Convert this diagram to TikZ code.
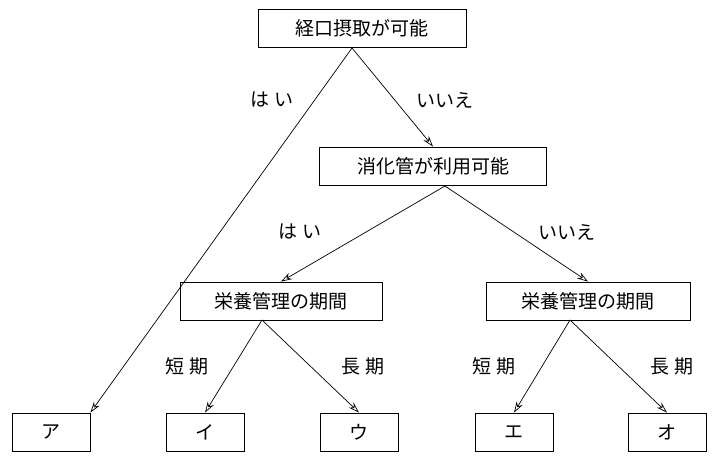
\documentclass[tikz,border=0pt]{standalone}
\usepackage{fontspec}
\setmainfont{Noto Sans CJK JP}
\usetikzlibrary{arrows.meta}
\begin{document}
\begin{tikzpicture}[x=1pt,y=-1pt,
  box/.style={draw,line width=0.8pt,minimum height=38pt,inner xsep=8pt,font=\fontsize{19}{22}\selectfont},
  leaf/.style={box,minimum width=78pt},
  lab/.style={font=\fontsize{19}{22}\selectfont},
  arr/.style={-{Stealth[length=11pt,width=7pt,open]},line width=0.7pt}]
\useasboundingbox (0,0) rectangle (714,465);
\node[box,minimum width=208pt] (n1) at (362,28) {経口摂取が可能};
\node[box,minimum width=227pt] (n2) at (433,166) {消化管が利用可能};
\node[box,minimum width=202pt] (n3) at (281,301) {栄養管理の期間};
\node[box,minimum width=204pt] (n4) at (588,301) {栄養管理の期間};
\node[leaf] (a) at (51,432) {ア};
\node[leaf] (i) at (205,432) {イ};
\node[leaf] (u) at (359,432) {ウ};
\node[leaf] (e) at (514,432) {エ};
\node[leaf] (o) at (667,432) {オ};
\coordinate (p1) at (352,48);
\coordinate (p2) at (445,186);
\coordinate (p3) at (262,320);
\coordinate (p4) at (570,320);
\draw[arr] (p1) -- (a.north east);
\draw[arr] (p1) -- (n2.north);
\draw[arr] (p2) -- (n3.north);
\draw[arr] (p2) -- (n4.north);
\draw[arr] (p3) -- (i.north);
\draw[arr] (p3) -- (u.north);
\draw[arr] (p4) -- (e.north);
\draw[arr] (p4) -- (o.north);
\node[lab] (l1) at (272,100) {は\ い};
\node[lab] (l2) at (445,100) {いいえ};
\node[lab] (l3) at (300,232) {は\ い};
\node[lab] (l4) at (567,232) {いいえ};
\node[lab] (l5) at (187,366) {短\ 期};
\node[lab] (l6) at (363,366) {長\ 期};
\node[lab] (l7) at (494,366) {短\ 期};
\node[lab] (l8) at (672,366) {長\ 期};
\end{tikzpicture}
\end{document}
